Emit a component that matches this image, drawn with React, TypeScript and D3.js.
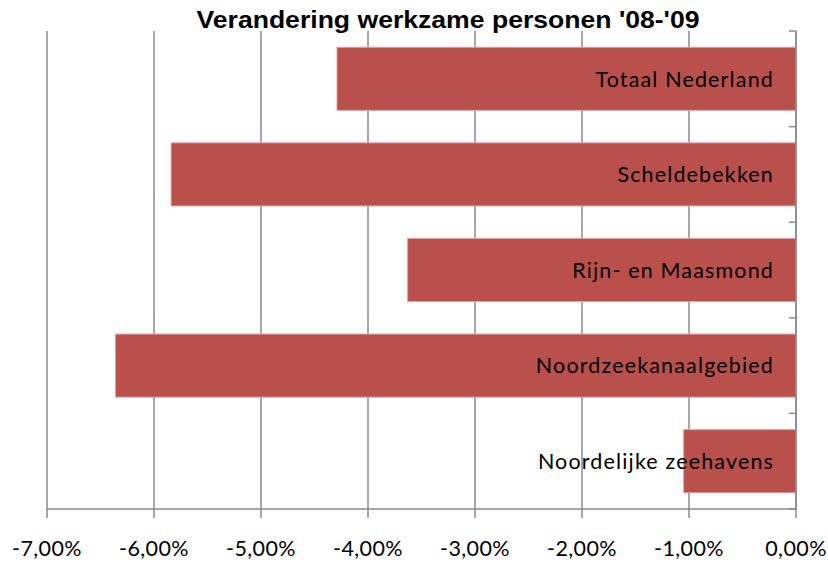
import React from "react";
import * as d3 from "d3";

const categories = [
  "Totaal Nederland",
  "Scheldebekken",
  "Rijn- en Maasmond",
  "Noordzeekanaalgebied",
  "Noordelijke zeehavens",
];
const values = [-4.29, -5.84, -3.63, -6.36, -1.05];
const xTicks = [-7, -6, -5, -4, -3, -2, -1, 0];
const title = "Verandering werkzame personen '08-'09";

export default function App() {
  const W = 828, H = 563;
  const left = 47, right = 796, top = 31, bottom = 509;
  const x = d3.scaleLinear().domain([-7, 0]).range([left, right]);
  const y = d3.scaleBand<string>().domain(categories).range([top, bottom]).paddingInner(0.34).paddingOuter(0.17);
  const yb = d3.scaleBand<string>().domain(categories).range([top, bottom]);
  const fmt = (v: number) => v.toFixed(2).replace(".", ",") + "%";
  const font = "Lato, 'Open Sans', sans-serif";
  return (
    <svg width={W} height={H} style={{ position: "absolute", left: 0, top: 0, background: "#fff" }}>
      {xTicks.map((t) => (
        <line key={"g" + t} x1={x(t)} x2={x(t)} y1={top} y2={bottom + 9} stroke="#8a8a8a" strokeWidth={1.5} />
      ))}
      <line x1={left} x2={right} y1={bottom} y2={bottom} stroke="#8a8a8a" strokeWidth={1.5} />
      {categories.map((c, i) => (
        <rect
          key={c}
          x={x(values[i])}
          y={y(c)!}
          width={x(0) - x(values[i])}
          height={y.bandwidth()}
          fill="#B9504C"
          stroke="#DDA3A1"
          strokeWidth={1}
        />
      ))}
      <line x1={right} x2={right} y1={top} y2={bottom} stroke="#8a8a8a" strokeWidth={1.5} />
      {[...categories.map((c) => yb(c)!), bottom].map((v, i) => (
        <line key={"t" + i} x1={right - 7} x2={right} y1={v} y2={v} stroke="#8a8a8a" strokeWidth={1.5} />
      ))}
      {categories.map((c) => (
        <text
          key={"l" + c}
          x={774}
          y={y(c)! + y.bandwidth() / 2}
          dy="0.36em"
          textAnchor="end"
          fontFamily={font}
          fontSize={21.5}
          letterSpacing={1.15}
          fill="#000"
        >
          {c}
        </text>
      ))}
      {xTicks.map((t) => (
        <text
          key={"x" + t}
          x={x(t)}
          y={548}
          dy="0.36em"
          textAnchor="middle"
          fontFamily={font}
          fontSize={21.5}
          letterSpacing={0.4}
          fill="#000"
        >
          {fmt(t)}
        </text>
      ))}
      <text
        x={448}
        y={28}
        textAnchor="middle"
        fontFamily="'Liberation Sans', Arial, sans-serif"
        fontWeight="bold"
        fontSize={24}
        textLength={503}
        lengthAdjust="spacingAndGlyphs"
        fill="#000"
      >
        {title}
      </text>
    </svg>
  );
}
